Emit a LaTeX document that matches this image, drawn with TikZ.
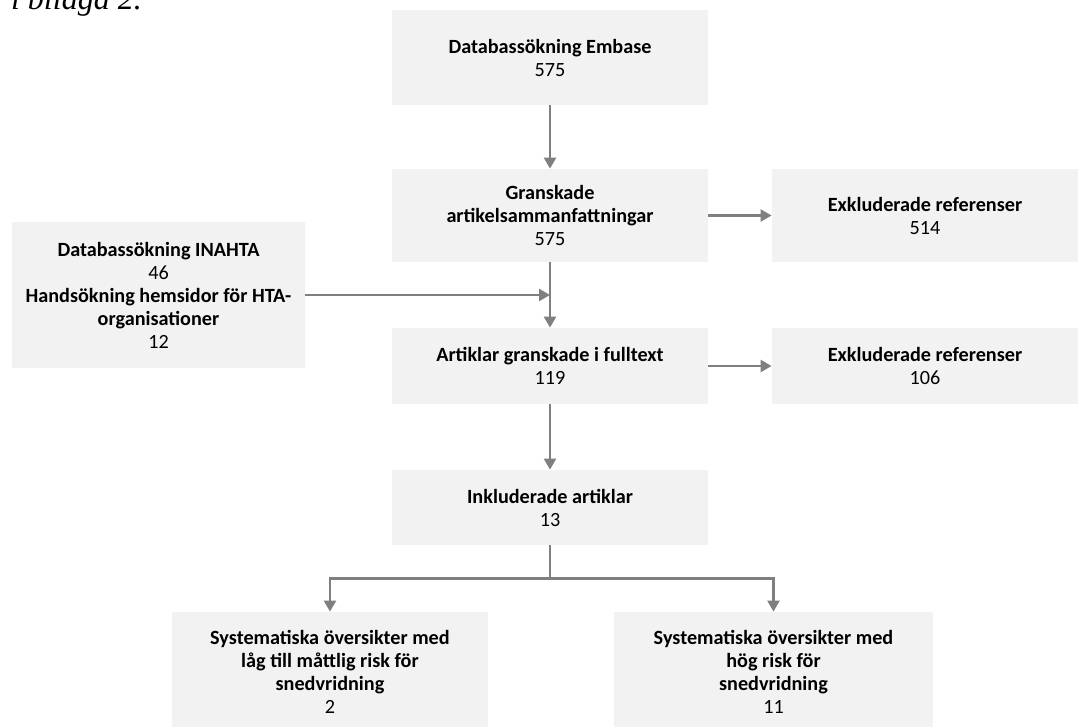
\documentclass[tikz,border=0pt]{standalone}
\usepackage{fontspec}
\setmainfont{Carlito}
\newfontfamily\notefont{Liberation Serif}
\usetikzlibrary{arrows.meta,calc,positioning}
\definecolor{boxgray}{RGB}{242,242,242}
\definecolor{arrowgray}{RGB}{127,127,127}

\begin{document}
\begin{tikzpicture}[x=0.5pt,y=-0.5pt,
  every node/.style={font=\fontsize{10.1}{11.5}\selectfont},
  stage/.style={fill=boxgray,align=center,inner sep=0pt,minimum width=158pt},
  flow/.style={draw=arrowgray,line width=1.2pt,-{Triangle[length=5.5pt,width=6pt]}},
  flowline/.style={draw=arrowgray,line width=1.2pt}]
  \useasboundingbox (0,0) rectangle (1078,727);
  \node[font=\fontsize{16}{18}\selectfont\notefont\itshape,anchor=base west] (note) at (4,10) {i bilaga 2.};
  \node[stage,minimum height=47.5pt] (emb) at (550,57.5) {\textbf{Databassökning Embase}\\575};
  \node[stage,minimum height=46.5pt] (gran) at (550,215.5) {\textbf{Granskade}\\\textbf{artikelsammanfattningar}\\575};
  \node[stage,minimum width=153pt,minimum height=46.5pt] (exk1) at (925,215.5) {\textbf{Exkluderade referenser}\\514};
  \node[stage,minimum width=146.5pt,minimum height=73pt] (inahta) at (158.5,295) {\textbf{Databassökning INAHTA}\\46\\\textbf{Handsökning hemsidor för HTA-}\\\textbf{organisationer}\\12};
  \node[stage,minimum height=38pt] (full) at (550,366) {\textbf{Artiklar granskade i fulltext}\\119};
  \node[stage,minimum width=153pt,minimum height=38pt] (exk2) at (925,366) {\textbf{Exkluderade referenser}\\106};
  \node[stage,minimum height=37.5pt] (incl) at (550,507.5) {\textbf{Inkluderade artiklar}\\13};
  \node[stage,minimum height=59.5pt] (sys1) at (330,671.5) {\textbf{Systematiska översikter med}\\\textbf{låg till måttlig risk för}\\\textbf{snedvridning}\\2};
  \node[stage,minimum width=159.5pt,minimum height=59.5pt] (sys2) at (773.5,671.5) {\textbf{Systematiska översikter med}\\\textbf{hög risk för}\\\textbf{snedvridning}\\11};
  \coordinate (merge) at (gran.south |- inahta.east);
  \coordinate (split) at ($(incl.south)+(0,33)$);
  \draw[flow] (emb) -- (gran);
  \draw[flow] (gran) -- (exk1);
  \draw[flow] (gran) -- (full);
  \draw[flow] (inahta) -- (merge);
  \draw[flow] (full) -- (exk2);
  \draw[flow] (full) -- (incl);
  \draw[flowline] (incl) -- (split);
  \draw[flow] (split) -| (sys1);
  \draw[flow] (split) -| (sys2);
\end{tikzpicture}
\end{document}
